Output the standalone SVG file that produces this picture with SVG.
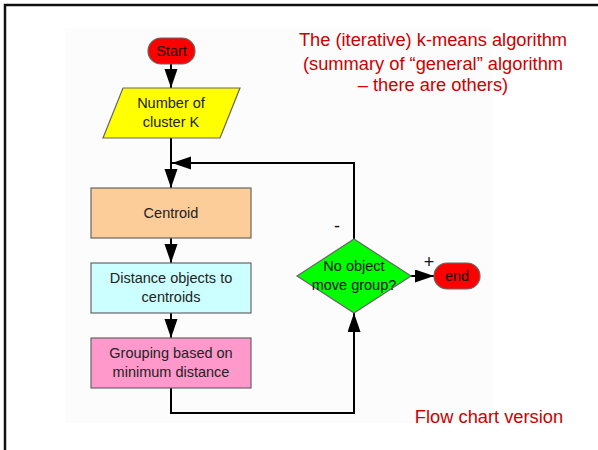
<svg xmlns="http://www.w3.org/2000/svg" width="598" height="450" viewBox="0 0 598 450">
<defs>
<marker id="ah" markerUnits="userSpaceOnUse" markerWidth="20" markerHeight="14" refX="19" refY="6.5" orient="auto">
<path d="M0,0 L19,6.5 L0,13 z" fill="#000"/>
</marker>
<style>
.lbl{font-family:"Liberation Sans",Arial,sans-serif;font-size:14.5px;fill:#222;text-anchor:middle}
.red{font-family:"Liberation Sans",Arial,sans-serif;font-size:18.3px;fill:#cc0000;text-anchor:middle}
.con{fill:none;stroke:#000;stroke-width:2}
.box{stroke:#666;stroke-width:1.2}
</style>
</defs>
<rect width="598" height="450" fill="#fff"/>
<rect x="65" y="28" width="428" height="395" fill="#fcfcfc"/>
<path d="M5,450 V5 H598" fill="none" stroke="#111" stroke-width="2.5"/>
<g id="title">
<text class="red" x="433" y="46">The (iterative) k-means algorithm</text>
<text class="red" x="433" y="70">(summary of “general” algorithm</text>
<text class="red" x="433" y="91">– there are others)</text>
</g>
<g id="footer"><text class="red" x="489" y="423">Flow chart version</text></g>
<g id="connectors">
<path class="con" d="M171,64 V88" marker-end="url(#ah)"/>
<path class="con" d="M171,138 V188" marker-end="url(#ah)"/>
<path class="con" d="M354,239 V163 H172" marker-end="url(#ah)"/>
<path class="con" d="M171,238 V263" marker-end="url(#ah)"/>
<path class="con" d="M171,313 V338" marker-end="url(#ah)"/>
<path class="con" d="M171,388 V413 H354 V313" marker-end="url(#ah)"/>
<path class="con" d="M411,276 H434" marker-end="url(#ah)"/>
<text class="lbl" x="337" y="232" style="font-size:18px;fill:#111">-</text>
<text class="lbl" x="429" y="268" style="font-size:18px;fill:#111">+</text>
</g>
<g id="start">
<rect class="box" x="148" y="38" width="47" height="26" rx="13" fill="#ff0000"/>
<text class="lbl" x="171.5" y="56" style="fill:#111">Start</text>
</g>
<g id="numk">
<polygon class="box" points="123,88 240,88 220,138 103,138" fill="#ffff00"/>
<text class="lbl" x="171" y="108">Number of</text>
<text class="lbl" x="171" y="127">cluster K</text>
</g>
<g id="centroid">
<rect class="box" x="91" y="188" width="160" height="50" fill="#fccc99"/>
<text class="lbl" x="171" y="218">Centroid</text>
</g>
<g id="distance">
<rect class="box" x="91" y="263" width="160" height="50" fill="#ccffff"/>
<text class="lbl" x="171" y="283">Distance objects to</text>
<text class="lbl" x="171" y="302">centroids</text>
</g>
<g id="grouping">
<rect class="box" x="91" y="338" width="160" height="50" fill="#ff99cc"/>
<text class="lbl" x="171" y="358">Grouping based on</text>
<text class="lbl" x="171" y="377">minimum distance</text>
</g>
<g id="decision">
<polygon class="box" points="354,239 411,276 354,313 297,276" fill="#00ff00"/>
<text class="lbl" x="354" y="271" style="fill:#111">No object</text>
<text class="lbl" x="354" y="290" style="fill:#111">move group?</text>
</g>
<g id="end">
<rect class="box" x="434" y="263" width="46" height="26" rx="13" fill="#ff0000"/>
<text class="lbl" x="457" y="281" style="fill:#111">end</text>
</g>
</svg>
